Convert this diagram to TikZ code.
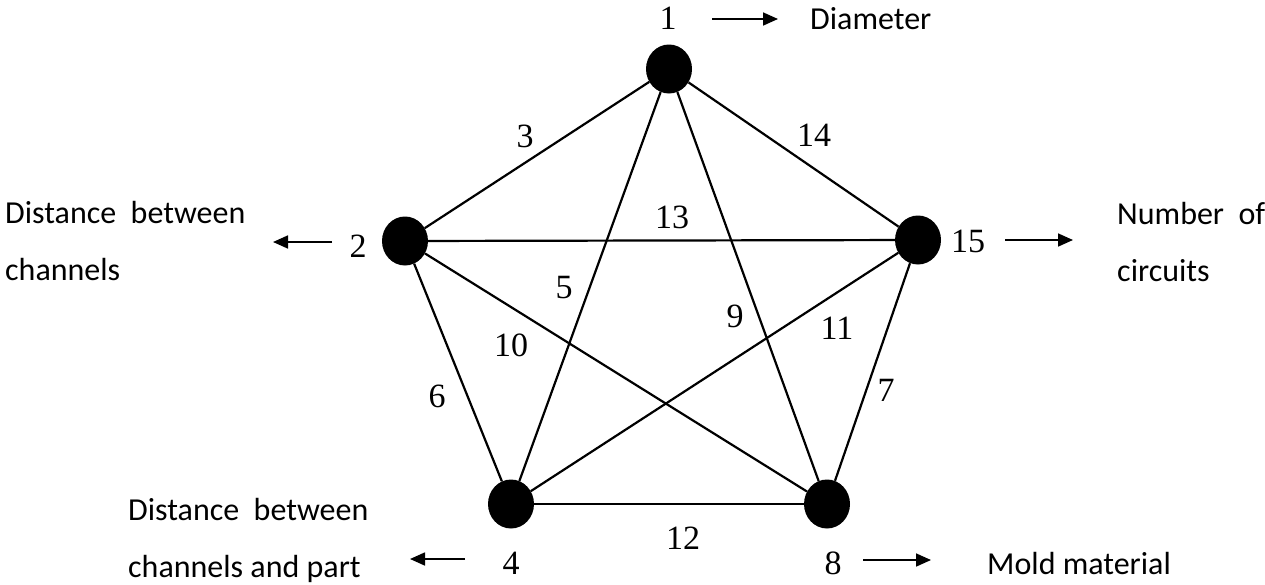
\documentclass[tikz,border=0pt]{standalone}
\usepackage{fontspec}
\setmainfont{Liberation Serif}
\newfontfamily\lblfont{Carlito}
\usetikzlibrary{shapes.geometric,arrows.meta}
\begin{document}
\begin{tikzpicture}[x=1pt,y=-1pt,
  vtx/.style={ellipse,fill=black,inner sep=0pt,minimum width=46pt,minimum height=49pt},
  edge/.style={line width=2.2pt},
  num/.style={inner sep=0pt,font=\fontsize{34}{34}\selectfont},
  lbl/.style={inner sep=0pt,anchor=base west,font=\lblfont\fontsize{32}{32}\selectfont},
  arr/.style={line width=1.7pt,-{Triangle[length=15pt,width=13pt]}}]
\useasboundingbox (0,0) rectangle (1265,584);
% vertices
\node[vtx] (v1) at (669,69) {};
\node[vtx] (v2) at (405,241) {};
\node[vtx] (v15) at (918,240) {};
\node[vtx] (v4) at (511,504) {};
\node[vtx] (v8) at (827,504) {};
% edges
\draw[edge] (v1) -- (v2);
\draw[edge] (v1) -- (v15);
\draw[edge] (v1) -- (v4);
\draw[edge] (v1) -- (v8);
\draw[edge] (v2) -- (v15);
\draw[edge] (v2) -- (v4);
\draw[edge] (v2) -- (v8);
\draw[edge] (v15) -- (v4);
\draw[edge] (v15) -- (v8);
\draw[edge] (v4) -- (v8);
% vertex numbers
\node[num] (n1) at (668,18) {1};
\node[num] (n2) at (358,246) {2};
\node[num] (n15) at (968,241) {15};
\node[num] (n4) at (511,563) {4};
\node[num] (n8) at (833,563) {8};
% edge numbers
\node[num] (e3) at (525,136) {3};
\node[num] (e14) at (814,135) {14};
\node[num] (e13) at (672,217) {13};
\node[num] (e5) at (564,288) {5};
\node[num] (e9) at (735,316) {9};
\node[num] (e11) at (837,328) {11};
\node[num] (e10) at (511,345) {10};
\node[num] (e6) at (437,396) {6};
\node[num] (e7) at (886,390) {7};
\node[num] (e12) at (683,538) {12};
% arrow ends
\coordinate (a1s) at (712,19);  \coordinate (a1e) at (778,19);
\coordinate (a2s) at (332,242); \coordinate (a2e) at (273,242);
\coordinate (a15s) at (1005,240); \coordinate (a15e) at (1073,240);
\coordinate (a4s) at (465,559); \coordinate (a4e) at (410,559);
\coordinate (a8s) at (863,560); \coordinate (a8e) at (931,560);
\draw[arr] (a1s) -- (a1e);
\draw[arr] (a2s) -- (a2e);
\draw[arr] (a15s) -- (a15e);
\draw[arr] (a4s) -- (a4e);
\draw[arr] (a8s) -- (a8e);
% labels
\node[lbl] (t1) at (810,29) {Diameter};
\node[lbl] (t2a) at (5,223) {Distance\ \ between};
\node[lbl] (t2b) at (5,280) {channels};
\node[lbl] (t15a) at (1117,224) {Number\ \ of};
\node[lbl] (t15b) at (1117,281) {circuits};
\node[lbl] (t4a) at (128,520) {Distance\ \ between};
\node[lbl] (t4b) at (128,577) {channels and part};
\node[lbl] (t8) at (987,574) {Mold material};
\end{tikzpicture}
\end{document}
